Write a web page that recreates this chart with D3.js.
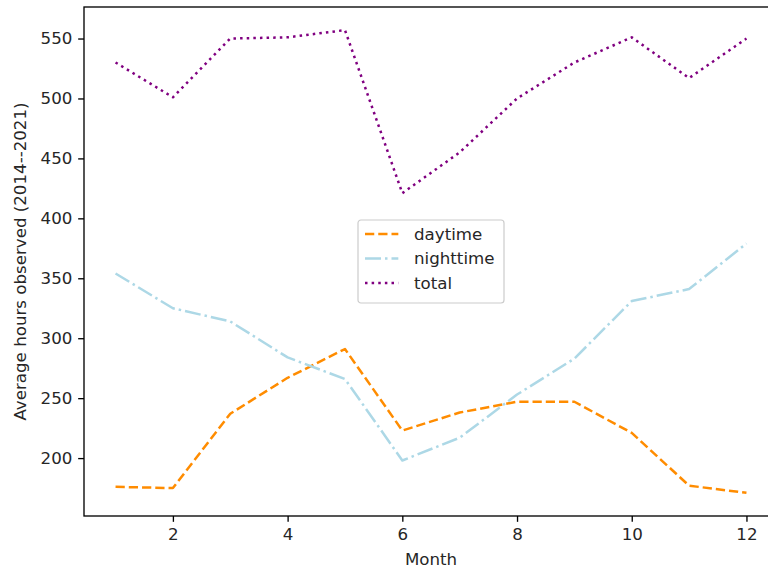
<!DOCTYPE html>
<html>
<head>
<meta charset="utf-8">
<script src="https://cdn.jsdelivr.net/npm/d3@7"></script>
<style>
  html, body { margin: 0; padding: 0; background: #fff; }
  svg { display: block; font-family: "DejaVu Sans", sans-serif; }
</style>
</head>
<body>
<svg id="chart" width="768" height="572"></svg>
<script>
// Monthly averages of observed hours, 2014–2021
const months    = [1, 2, 3, 4, 5, 6, 7, 8, 9, 10, 11, 12];
const daytime   = [176, 175, 237, 267, 291, 223, 238, 247, 247, 221, 177, 171];
const nighttime = [354, 325, 314, 284, 266, 198, 217, 253, 283, 331, 341, 379];
const total     = [530, 501, 550, 551, 557, 421, 455, 500, 530, 551, 517, 550];

const seriesNames = ["daytime", "nighttime", "total"];
const xTicks = [2, 4, 6, 8, 10, 12];
const yTicks = [200, 250, 300, 350, 400, 450, 500, 550];

const pt = 120 / 72;             // pixels per point
const lw = 1.5 * pt;             // line width
const styles = {
  daytime:   { color: "#ff8c00", dash: [3.7 * lw, 1.6 * lw] },
  nighttime: { color: "#add8e6", dash: [6.4 * lw, 1.6 * lw, 1 * lw, 1.6 * lw] },
  total:     { color: "#800080", dash: [1 * lw, 1.65 * lw] }
};

const series = [
  { name: "daytime",   values: daytime },
  { name: "nighttime", values: nighttime },
  { name: "total",     values: total }
];

const svg = d3.select("#chart");
const box = { left: 84, top: 7, right: 778, bottom: 516 };

// 5% padding around the data, like the usual autoscale
const xExt = d3.extent(months);
const xPad = (xExt[1] - xExt[0]) * 0.05;
const allVals = [].concat(daytime, nighttime, total);
const yExt = d3.extent(allVals);
const yPad = (yExt[1] - yExt[0]) * 0.05;

const x = d3.scaleLinear().domain([xExt[0] - xPad, xExt[1] + xPad]).range([box.left, box.right]);
const y = d3.scaleLinear().domain([yExt[0] - yPad, yExt[1] + yPad]).range([box.bottom, box.top]);

const textColor = "#262626";
const fontPx = 10 * pt;

// Lines
const line = d3.line().x((d, i) => x(months[i])).y(d => y(d));
svg.append("g").selectAll("path").data(series).join("path")
  .attr("d", d => line(d.values))
  .attr("fill", "none")
  .attr("stroke", d => styles[d.name].color)
  .attr("stroke-width", lw)
  .attr("stroke-dasharray", d => styles[d.name].dash.join(","))
  .attr("stroke-linejoin", "round");

// Axes
const tickLen = 3.5 * pt, tickPad = 3.5 * pt;
const xAxis = d3.axisBottom(x).tickValues(xTicks).tickFormat(d3.format("d"))
  .tickSizeInner(tickLen).tickSizeOuter(0).tickPadding(tickPad);
const yAxis = d3.axisLeft(y).tickValues(yTicks).tickFormat(d3.format("d"))
  .tickSizeInner(tickLen).tickSizeOuter(0).tickPadding(tickPad);

const gx = svg.append("g").attr("transform", `translate(0,${box.bottom})`).call(xAxis);
const gy = svg.append("g").attr("transform", `translate(${box.left},0)`).call(yAxis);
[gx, gy].forEach(g => {
  g.select(".domain").remove();
  g.selectAll(".tick line").attr("stroke", "#000").attr("stroke-width", 0.8 * pt);
  g.selectAll(".tick text").attr("fill", textColor)
    .style("font-size", fontPx + "px").style("font-family", "DejaVu Sans, sans-serif");
});

// Spines
svg.append("rect")
  .attr("x", box.left).attr("y", box.top)
  .attr("width", box.right - box.left).attr("height", box.bottom - box.top)
  .attr("fill", "none").attr("stroke", "#000").attr("stroke-width", 0.8 * pt);

// Axis labels
svg.append("text")
  .attr("x", (box.left + box.right) / 2).attr("y", 565)
  .attr("text-anchor", "middle").attr("fill", textColor)
  .style("font-size", fontPx + "px")
  .text("Month");

svg.append("text")
  .attr("transform", `translate(26,${(box.top + box.bottom) / 2}) rotate(-90)`)
  .attr("text-anchor", "middle").attr("fill", textColor)
  .style("font-size", fontPx + "px")
  .text("Average hours observed (2014--2021)");

// Legend, centred in the plot area
const legW = 146, legH = 83;
const cx = (box.left + box.right) / 2, cy = (box.top + box.bottom) / 2;
const leg = svg.append("g").attr("transform", `translate(${cx - legW / 2},${cy - legH / 2})`);
leg.append("rect")
  .attr("x", 0).attr("y", 0).attr("width", legW).attr("height", legH)
  .attr("rx", 3).attr("ry", 3)
  .attr("fill", "#fff").attr("fill-opacity", 0.8)
  .attr("stroke", "#cccccc").attr("stroke-width", 1.2);

const rowH = 24.5;
const items = leg.selectAll("g.item").data(seriesNames).join("g")
  .attr("class", "item")
  .attr("transform", (d, i) => `translate(0,${14 + i * rowH})`);
items.append("line")
  .attr("x1", 7).attr("x2", 7 + 2 * fontPx)
  .attr("y1", 0).attr("y2", 0)
  .attr("stroke", d => styles[d].color)
  .attr("stroke-width", lw)
  .attr("stroke-dasharray", d => styles[d].dash.join(","));
items.append("text")
  .attr("x", 56).attr("y", 0).attr("dy", "0.35em")
  .attr("fill", textColor)
  .style("font-size", fontPx + "px")
  .text(d => d);
</script>
</body>
</html>
